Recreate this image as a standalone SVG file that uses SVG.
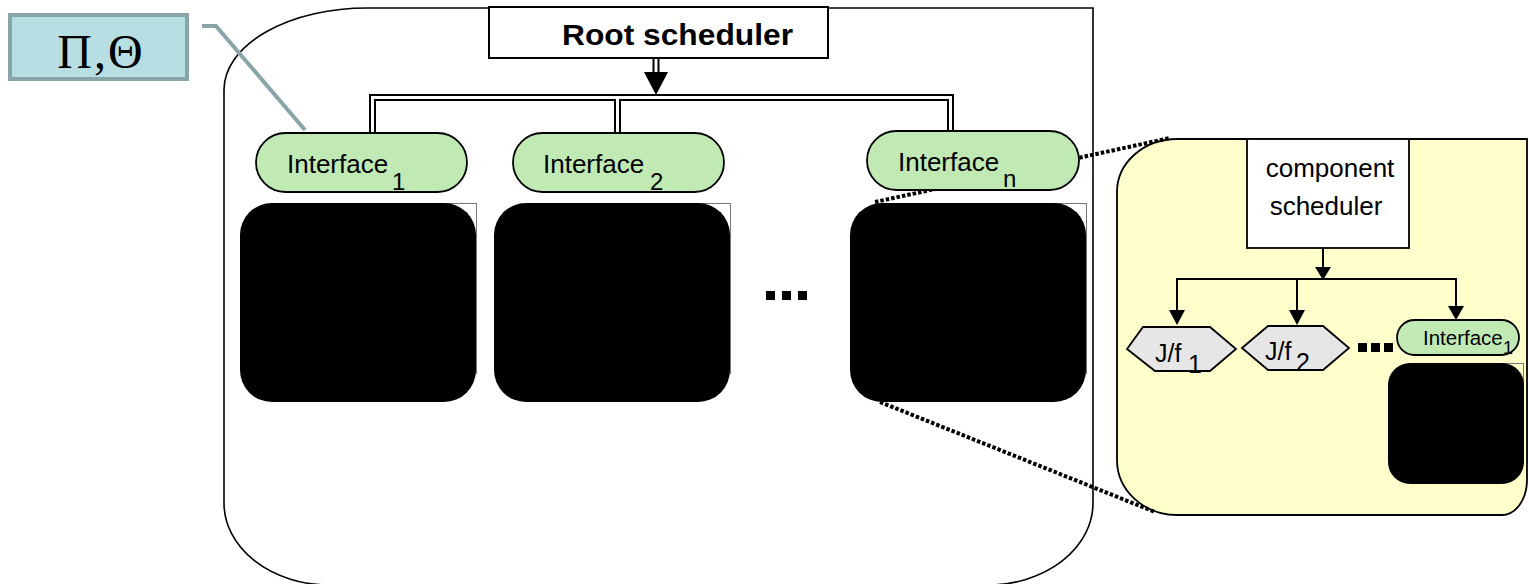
<svg xmlns="http://www.w3.org/2000/svg" width="1529" height="584" viewBox="0 0 1529 584">
<defs>
<style>
.t{font-family:"Liberation Sans",Arial,sans-serif;fill:#000}
.pill{fill:#c0e9b4;stroke:#000;stroke-width:1.8}
.blk{fill:#000}
.ghost{fill:none;stroke:#777;stroke-width:1}
.hex{fill:#e6e6e6;stroke:#000;stroke-width:1.8}
.dbl-o{fill:none;stroke:#000;stroke-width:7;stroke-linejoin:miter}
.dbl-i{fill:none;stroke:#fff;stroke-width:3;stroke-linejoin:miter}
.thin{fill:none;stroke:#000;stroke-width:2}
.dots{fill:none;stroke:#000;stroke-width:4;stroke-dasharray:3.5 2}
.sq{fill:#000}
</style>
</defs>
<rect width="1529" height="584" fill="#fff"/>

<g id="outer-system">
<path d="M224,503 V90 A143,82 0 0 1 367,8 H1093 V503 A105,82 0 0 1 988,585 H329 A105,82 0 0 1 224,503 Z" fill="#fff" stroke="#000" stroke-width="1.6"/>
</g>

<g id="component-panel">
<path d="M1117,460 V192 A60,53 0 0 1 1177,139 H1527 V480 A25,35 0 0 1 1502,515 H1177 A60,55 0 0 1 1117,460 Z" fill="#ffffcc" stroke="#000" stroke-width="1.8"/>
</g>

<g id="connectors">
<line x1="875" y1="202" x2="1170" y2="138" class="dots"/>
<line x1="880" y1="402" x2="1155" y2="512" class="dots"/>
<polyline points="202,26 216,26 305,130" fill="none" stroke="#8aa5a8" stroke-width="4"/>
<path d="M656,58 V73" class="dbl-o"/>
<path d="M372.5,133 V97.5 H950.5 V133 M617.5,97.5 V133" class="dbl-o"/>
<path d="M656,58 V73" class="dbl-i"/>
<path d="M372.5,133 V97.5 H950.5 V133 M617.5,97.5 V133" class="dbl-i"/>
<polygon points="644,72 668,72 656,95" fill="#000"/>
<line x1="1323" y1="248" x2="1323" y2="268" class="thin"/>
<polygon points="1315,267 1331,267 1323,280" fill="#000"/>
<polyline points="1177,311 1177,279 1456,279 1456,307" class="thin"/>
<line x1="1297" y1="279" x2="1297" y2="311" class="thin"/>
<polygon points="1169,310 1185,310 1177,325" fill="#000"/>
<polygon points="1289,310 1305,310 1297,325" fill="#000"/>
<polygon points="1448,306 1464,306 1456,320" fill="#000"/>
</g>

<g id="params">
<rect x="10" y="15" width="177" height="64" fill="#b7dfe3" stroke="#8aa5a8" stroke-width="4"/>
<text x="101" y="68" text-anchor="middle" font-family="Liberation Serif,Times New Roman,serif" font-size="48" letter-spacing="2">Π,Θ</text>
</g>

<g id="root-scheduler">
<rect x="489" y="7" width="339" height="51" fill="#fff" stroke="#000" stroke-width="2"/>
<text x="677.5" y="45" text-anchor="middle" class="t" font-size="30" font-weight="bold" textLength="231" lengthAdjust="spacingAndGlyphs">Root scheduler</text>
</g>

<g id="interface-1">
<rect x="256" y="133" width="211" height="59" rx="29.5" class="pill"/>
<text x="287" y="173" class="t" font-size="26">Interface</text>
<text x="392" y="190" class="t" font-size="24">1</text>
</g>

<g id="interface-2">
<rect x="513" y="133" width="211" height="59" rx="29.5" class="pill"/>
<text x="543" y="173" class="t" font-size="26">Interface</text>
<text x="650" y="190" class="t" font-size="24">2</text>
</g>

<g id="interface-n">
<rect x="867" y="131" width="212" height="59" rx="29.5" class="pill"/>
<text x="898" y="171" class="t" font-size="26">Interface</text>
<text x="1003" y="187" class="t" font-size="24">n</text>
</g>

<g id="component-1">
<rect x="330" y="203.5" width="146.5" height="170" class="ghost"/>
<rect x="240" y="203" width="236" height="199" rx="32" class="blk"/>
</g>

<g id="component-2">
<rect x="584" y="203.5" width="146.5" height="170" class="ghost"/>
<rect x="494" y="203" width="236" height="199" rx="32" class="blk"/>
</g>

<g id="ellipsis-main">
<rect x="766" y="291" width="9" height="9" class="sq"/>
<rect x="782" y="291" width="9" height="9" class="sq"/>
<rect x="798" y="291" width="9" height="9" class="sq"/>
</g>

<g id="component-n">
<rect x="940" y="203.5" width="146.5" height="170" class="ghost"/>
<rect x="850" y="203" width="236" height="199" rx="32" class="blk"/>
</g>

<g id="component-scheduler">
<rect x="1247" y="139" width="162" height="109" fill="#fff" stroke="#000" stroke-width="1.8"/>
<text x="1330" y="177" text-anchor="middle" class="t" font-size="26">component</text>
<text x="1326" y="215" text-anchor="middle" class="t" font-size="26">scheduler</text>
</g>

<g id="job-1">
<polygon points="1127,349 1143,327 1210,327 1236,349 1210,371 1155,371" class="hex"/>
<text x="1155" y="362" class="t" font-size="25">J/f</text>
<text x="1188" y="373" class="t" font-size="25">1</text>
</g>

<g id="job-2">
<polygon points="1242,348 1268,326 1323,326 1349,348 1323,370 1268,370" class="hex"/>
<text x="1265" y="360" class="t" font-size="25">J/f</text>
<text x="1296" y="371" class="t" font-size="25">2</text>
</g>

<g id="ellipsis-sub">
<rect x="1358" y="343" width="9" height="9" class="sq"/>
<rect x="1371" y="343" width="9" height="9" class="sq"/>
<rect x="1384" y="343" width="9" height="9" class="sq"/>
</g>

<g id="sub-interface-1">
<rect x="1397" y="320" width="122" height="35" rx="17.5" class="pill"/>
<text x="1423" y="345" class="t" font-size="20.5">Interface</text>
<text x="1503" y="354" class="t" font-size="18">1</text>
</g>

<g id="sub-component-1">
<rect x="1440" y="363.5" width="83.5" height="100" class="ghost"/>
<rect x="1388" y="363" width="136" height="121" rx="22" class="blk"/>
</g>
</svg>
